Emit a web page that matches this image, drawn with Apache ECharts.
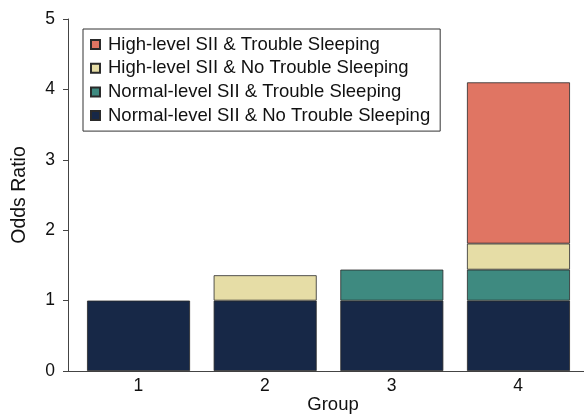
<!DOCTYPE html>
<html>
<head>
<meta charset="utf-8">
<script src="https://cdn.jsdelivr.net/npm/echarts@6/dist/echarts.min.js"></script>
<style>html,body{margin:0;padding:0;background:#fff}#c{width:584px;height:416px}</style>
</head>
<body>
<div id="c"></div>
<script>
const groups = ['1', '2', '3', '4'];
const groupValues = [1, 2, 3, 4];
const normalNoTrouble = [1.0, 1.0, 1.0, 1.0];
const normalTrouble = [null, null, 0.44, 0.44];
const highNoTrouble = [null, 0.36, null, 0.37];
const highTrouble = [null, null, null, 2.29];
const seriesNames = [
  'Normal-level SII & No Trouble Sleeping',
  'Normal-level SII & Trouble Sleeping',
  'High-level SII & No Trouble Sleeping',
  'High-level SII & Trouble Sleeping'
];

const colors = ['#172847', '#3E8A80', '#E6DDA6', '#E07563'];
const values = [normalNoTrouble, normalTrouble, highNoTrouble, highTrouble];
const FONT = 'Liberation Sans, Arial, sans-serif';
const TXT = '#111';

const chart = echarts.init(document.getElementById('c'), null, {renderer: 'canvas'});
chart.setOption({
  animation: false,
  grid: [
    {left: 68, right: 0, top: 19, bottom: 45, containLabel: false, outerBoundsMode: 'none'},
    {left: 75.2, right: 2.2, top: 19, bottom: 45, containLabel: false, outerBoundsMode: 'none'}
  ],
  legend: {
    orient: 'vertical',
    left: 83, top: 29,
    data: seriesNames.slice().reverse(),
    icon: 'rect',
    itemWidth: 9, itemHeight: 9,
    itemGap: 4.7,
    padding: [6, 10, 6, 7],
    borderColor: '#333', borderWidth: 1,
    textStyle: {fontFamily: FONT, fontSize: 18.5, color: TXT, lineHeight: 18, padding: [0, 0, 0, 3]}
  },
  xAxis: [{
    gridIndex: 0, type: 'value', min: 0.445, max: 4.52,
    splitLine: {show: false},
    axisLine: {show: true, lineStyle: {color: '#444', width: 1}},
    axisTick: {show: false},
    axisLabel: {customValues: groupValues, fontFamily: FONT, fontSize: 17.5, color: TXT, margin: 6,
      formatter: v => String(v)},
    name: 'Group', nameLocation: 'middle', nameGap: 24, nameMoveOverlap: false,
    nameTextStyle: {fontFamily: FONT, fontSize: 18.5, color: TXT, padding: [0, 0, 0, 14],
      verticalAlign: 'top'}
  }, {
    gridIndex: 1, type: 'category', data: groups,
    axisLine: {show: false}, axisTick: {show: false}, axisLabel: {show: false}
  }],
  yAxis: [{
    gridIndex: 0, type: 'value', min: 0, max: 5, interval: 1,
    splitLine: {show: false},
    axisLine: {show: true, lineStyle: {color: '#444', width: 1}},
    axisTick: {show: true, inside: false, length: 5, lineStyle: {color: '#444'}},
    axisLabel: {fontFamily: FONT, fontSize: 17.5, color: TXT, margin: 13},
    name: 'Odds Ratio', nameLocation: 'middle', nameGap: 38, nameMoveOverlap: false,
    nameTextStyle: {fontFamily: FONT, fontSize: 19.5, color: TXT}
  }, {
    gridIndex: 1, type: 'value', min: 0, max: 5, interval: 1,
    splitLine: {show: false}, axisLine: {show: false}, axisTick: {show: false}, axisLabel: {show: false}
  }],
  series: seriesNames.map((n, i) => ({
    name: n, type: 'bar', stack: 'or',
    xAxisIndex: 1, yAxisIndex: 1,
    barWidth: 103,
    data: values[i],
    itemStyle: {color: colors[i], borderColor: '#2a2a2a', borderWidth: 0.8}
  }))
});
</script>
</body>
</html>
